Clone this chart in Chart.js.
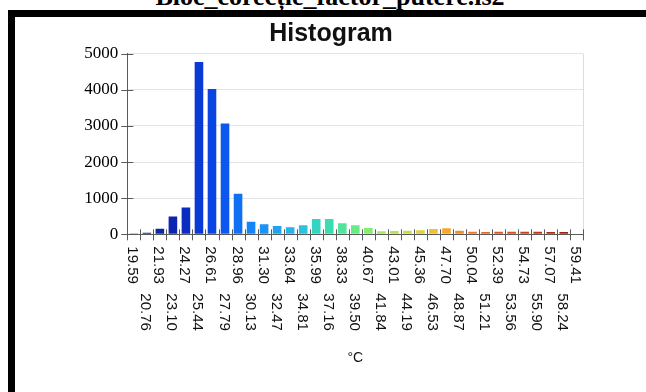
<!DOCTYPE html>
<html>
<head>
<meta charset="utf-8">
<script src="https://cdn.jsdelivr.net/npm/chart.js@4"></script>
<style>
  html, body { margin: 0; padding: 0; background: #fff; }
  body { width: 646px; height: 392px; position: relative; overflow: hidden; }
  #fileName {
    position: absolute; left: 14px; width: 632px; top: -14px;
    text-align: center; font: bold 26px "Liberation Serif", serif; line-height: 22px;
    color: #000; white-space: nowrap;
  }
  .frame { position: absolute; background: #000; }
  #chartBox { position: absolute; left: 0; top: 0; width: 646px; height: 392px; }
</style>
</head>
<body>
<div id="fileName">Bloc_corecție_factor_putere.is2</div>
<div class="frame" style="left:8px; top:10px; width:638px; height:7px;"></div>
<div class="frame" style="left:8px; top:10px; width:7px; height:382px;"></div>
<div id="chartBox"><canvas id="hist" width="646" height="392"></canvas></div>
<script>
// bin start values (°C), one per bin
const xEdgeLabels = ['19.59', '20.76', '21.93', '23.10', '24.27', '25.44', '26.61', '27.79',
    '28.96', '30.13', '31.30', '32.47', '33.64', '34.81', '35.99', '37.16', '38.33', '39.50',
    '40.67', '41.84', '43.01', '44.19', '45.36', '46.53', '47.70', '48.87', '50.04', '51.21',
    '52.39', '53.56', '54.73', '55.90', '57.07', '58.24', '59.41'];

// counts per bin
const binCounts = [20, 45, 155, 490, 740, 4770, 4020, 3070, 1125, 350, 277, 230, 194, 250,
    423, 423, 304, 249, 174, 83, 91, 100, 115, 147, 166, 100, 72, 65, 70, 70, 70, 68, 66, 64, 0];

const yTicks = [0, 1000, 2000, 3000, 4000, 5000];

// colour ramp of the bars
const barColors = ['#1c2470', '#1a2590', '#0f24a0', '#0b25b0', '#0a2cc0', '#0a3ad6', '#0a44e2',
    '#0c58ee', '#0f70f4', '#1485f6', '#1a93f5', '#20a2f0', '#26b2ea', '#2cc2de', '#32d4c4',
    '#3adcb0', '#50e49c', '#6aea84', '#86ec70', '#a4e85c', '#b8e24e', '#c8dc44', '#dcd23c',
    '#ecc234', '#f4a82a', '#f48e26', '#ee7624', '#e86622', '#e05a20', '#d84e1e', '#cc421a',
    '#be3616', '#ae2c12', '#9c220e', '#8c1a0a'];

const AXIS_COLOR = '#5a5a5a';

/**
 * Draws titles, crossing tick marks and the rotated bin labels
 */
const histDecor = {
    id: 'histDecor',
    afterDraw(chart) {
        const ctx = chart.ctx;
        const area = chart.chartArea;
        const xs = chart.scales.x;
        const ys = chart.scales.y;
        const px = v => Math.round(v) + 0.5;

        ctx.save();
        // light right border of the plot
        ctx.strokeStyle = '#dddddd';
        ctx.lineWidth = 1;
        ctx.beginPath();
        ctx.moveTo(px(area.right), area.top);
        ctx.lineTo(px(area.right), area.bottom);
        ctx.stroke();

        // tick marks crossing the axes
        ctx.strokeStyle = AXIS_COLOR;
        ctx.beginPath();
        yTicks.forEach(v => {
            const y = px(ys.getPixelForValue(v));
            ctx.moveTo(area.left - 6, y);
            ctx.lineTo(area.left + 6, y);
        });
        for (let i = 0; i <= xEdgeLabels.length; i++) {
            const x = px(xs.getPixelForValue(i));
            ctx.moveTo(x, area.bottom - 5);
            ctx.lineTo(x, area.bottom + 6);
        }
        ctx.stroke();

        // rotated labels, two staggered rows
        ctx.fillStyle = '#111';
        ctx.font = '15px "Liberation Sans", Arial, sans-serif';
        ctx.textAlign = 'left';
        ctx.textBaseline = 'alphabetic';
        xEdgeLabels.forEach((lbl, i) => {
            const x = xs.getPixelForValue(i);
            const y = area.bottom + 12 + (i % 2) * 47;
            ctx.save();
            ctx.translate(x + 1, y);
            ctx.rotate(Math.PI / 2);
            ctx.fillText(lbl, 0, 0);
            ctx.restore();
        });

        // titles
        ctx.textAlign = 'center';
        ctx.fillStyle = '#111';
        ctx.font = 'bold 25px "Liberation Sans", Arial, sans-serif';
        ctx.fillText('Histogram', 331, 41);
        ctx.font = '14px "Liberation Sans", Arial, sans-serif';
        ctx.fillText('°C', (area.left + area.right) / 2, 362);
        ctx.restore();
    }
};

const ctx = document.getElementById('hist');
new Chart(ctx, {
    type: 'bar',
    data: {
        datasets: [{
            data: binCounts.map((c, i) => ({ x: i + 0.5, y: c })),
            backgroundColor: barColors,
            borderWidth: 0,
            barPercentage: 0.66,
            categoryPercentage: 1
        }]
    },
    options: {
        responsive: false,
        animation: false,
        events: [],
        layout: { padding: { left: 0, top: 53.7, right: 62.7, bottom: 0 } },
        plugins: {
            legend: { display: false },
            tooltip: { enabled: false }
        },
        scales: {
            x: {
                type: 'linear',
                min: 0,
                max: xEdgeLabels.length,
                offset: false,
                grid: { display: false, drawTicks: false },
                border: { display: true, color: AXIS_COLOR },
                ticks: { display: false },
                afterFit: s => { s.height = 392 - 234.3; }
            },
            y: {
                min: 0,
                max: 5000,
                afterBuildTicks: s => { s.ticks = yTicks.map(v => ({ value: v })); },
                grid: { color: '#e4e4e4', drawTicks: false },
                border: { display: true, color: AXIS_COLOR },
                ticks: {
                    padding: 9,
                    color: '#000',
                    callback: v => String(v),
                    font: { family: '"Liberation Serif", "Times New Roman", serif', size: 17 }
                },
                afterFit: s => { s.width = 127.3; }
            }
        }
    },
    plugins: [histDecor]
});
</script>
</body>
</html>
